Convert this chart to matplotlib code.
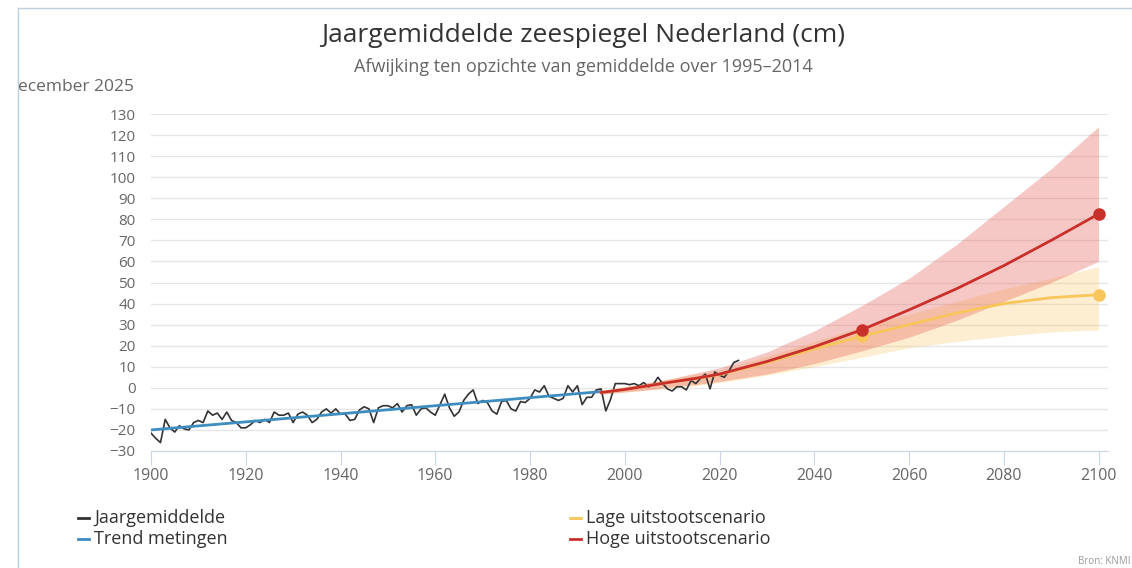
import matplotlib.pyplot as plt
from matplotlib.lines import Line2D

plt.rcParams["font.family"] = ["Open Sans", "DejaVu Sans"]

# ── Jaargemiddelde zeespiegel (cm) ──
years = list(range(1900, 2025))
annual = [
    -21.5, -24, -26, -15, -19, -21, -18, -19.5, -20, -16.5,
    -15.5, -16.5, -11, -13, -12, -15, -11.5, -15.5, -16.5, -19,
    -19, -17.5, -15.5, -16.5, -15, -16.5, -11.5, -13, -13, -12,
    -16.5, -12.5, -11.5, -13, -16.5, -15, -11.5, -10, -12, -10,
    -12.5, -12.5, -15.5, -15, -10.5, -9, -10, -16.5, -9.5, -8.5,
    -8.5, -9.5, -7.5, -11.5, -8.5, -8, -13, -10, -9.5, -11.5,
    -13, -8, -3, -9.5, -13.5, -11.5, -6, -3, -1, -7.5,
    -6, -7, -11, -12.5, -6.5, -6, -10, -11, -6.5, -7,
    -5, -1, -2, 1, -4, -5, -6, -5, 1, -2,
    1, -8, -4.5, -4.5, -1, -0.5, -11, -5.5, 2, 2,
    2, 1.5, 2, 1, 2.5, 0.5, 1.5, 5, 2, -0.5,
    -1.5, 0.5, 0.5, -1, 3.5, 2, 4.5, 6.5, -0.5, 7.5,
    6, 5, 8, 12, 13,
]

# trend metingen (rechte lijn)
trend_years = [1900, 1995]
trend_values = [-20.0, -1.8]

# scenario's
scen_years = [1995, 2000, 2005, 2010, 2015, 2020, 2030, 2040, 2050, 2060, 2070, 2080, 2090, 2100]
high_mid = [-2.2, -0.8, 1.0, 2.8, 4.5, 6.5, 12.5, 19.5, 27.5, 37, 47, 58, 70, 82.5]
high_low = [-3.0, -2.0, -1.0, 0.5, 1.5, 3.0, 6.5, 11.5, 17.5, 24, 32, 41, 50, 60]
high_up = [-1.5, 0.5, 2.5, 4.5, 7.0, 9.5, 17, 27, 39, 52, 68, 86, 104, 124]
low_mid = [-2.2, -0.8, 1.0, 2.8, 4.5, 6.3, 12, 18.5, 24.5, 30, 35.5, 40, 42.8, 44.2]
low_low = [-3.0, -2.0, -1.0, 0.0, 1.0, 2.5, 6, 10, 14.5, 19, 22, 24.5, 26.5, 27.5]
low_up = [-1.5, 0.5, 2.5, 4.5, 6.5, 8.5, 15, 22, 29, 35, 41, 47, 52, 57.5]
marker_years = [2050, 2100]

legend_labels = ["Jaargemiddelde", "Trend metingen", "Lage uitstootscenario", "Hoge uitstootscenario"]

BLACK = "#333333"
BLUE = "#3d8ebf"
YELLOW = "#f7c55a"
RED = "#c9302c"
GRID = "#e6e6e6"
TXT = "#666666"

fig = plt.figure(figsize=(11.32, 5.68), dpi=100)
ax = fig.add_axes([151 / 1132, 117 / 568, 957 / 1132, 337 / 568])

ax.fill_between(scen_years, low_low, low_up, color="#fbc867", alpha=0.3, lw=0)
ax.fill_between(scen_years, high_low, high_up, color="#e65a4f", alpha=0.33, lw=0)

ax.plot(years, annual, color=BLACK, lw=1.2, zorder=3)
ax.plot(trend_years, trend_values, color=BLUE, lw=2, zorder=4)
ax.plot(scen_years, low_mid, color=YELLOW, lw=2, zorder=5)
ax.plot(scen_years, high_mid, color=RED, lw=2, zorder=6)

low_pts = [low_mid[scen_years.index(y)] for y in marker_years]
high_pts = [high_mid[scen_years.index(y)] for y in marker_years]
ax.plot(marker_years, low_pts, "o", color=YELLOW, ms=8, zorder=5, clip_on=False)
ax.plot(marker_years, high_pts, "o", color=RED, ms=8, zorder=6, clip_on=False)

ax.set_xlim(1900, 2102)
ax.set_ylim(-30, 130)
ax.set_xticks(range(1900, 2101, 20))
ax.set_yticks(range(-30, 131, 10))
ax.yaxis.grid(True, color=GRID, lw=1)
ax.set_axisbelow(True)
for side in ["top", "right", "left"]:
    ax.spines[side].set_visible(False)
ax.spines["bottom"].set_color("#ccd6eb")
ax.tick_params(axis="y", length=0, pad=11, labelsize=11, labelcolor=TXT)
ax.tick_params(axis="x", length=10, color="#ccd6eb", pad=2, labelsize=11.5, labelcolor=TXT)

fig.text(583 / 1132, 1 - 35 / 568, "Jaargemiddelde zeespiegel Nederland (cm)",
         ha="center", va="center", fontsize=19, color=BLACK)
fig.text(583 / 1132, 1 - 67 / 568, "Afwijking ten opzichte van gemiddelde over 1995–2014",
         ha="center", va="center", fontsize=13, color=TXT)
fig.text(18 / 1132, 1 - 87 / 568, "ecember 2025", ha="left", va="center",
         fontsize=12.5, color=TXT)
fig.text(1130 / 1132, 1 - 562 / 568, "Bron: KNMI", ha="right", va="center",
         fontsize=7, color="#999999")

# legenda, twee kolommen
leg_colors = [BLACK, BLUE, YELLOW, RED]
leg_x = [78, 78, 570, 570]
leg_y = [518, 539, 518, 539]
for lab, col, lx, ly in zip(legend_labels, leg_colors, leg_x, leg_y):
    fy = 1 - ly / 568
    fig.add_artist(Line2D([lx / 1132, (lx + 11) / 1132], [fy, fy], color=col, lw=2))
    fig.text((lx + 16) / 1132, fy, lab, ha="left", va="center", fontsize=13, color=BLACK)

# rand van de grafiek
frame = "#bcd0e0"
fig.add_artist(Line2D([17.5 / 1132, 17.5 / 1132], [0, 1 - 8 / 568], color=frame, lw=1))
fig.add_artist(Line2D([17.5 / 1132, 1], [1 - 8 / 568, 1 - 8 / 568], color=frame, lw=1))

fig.savefig("out.png", dpi=100)
